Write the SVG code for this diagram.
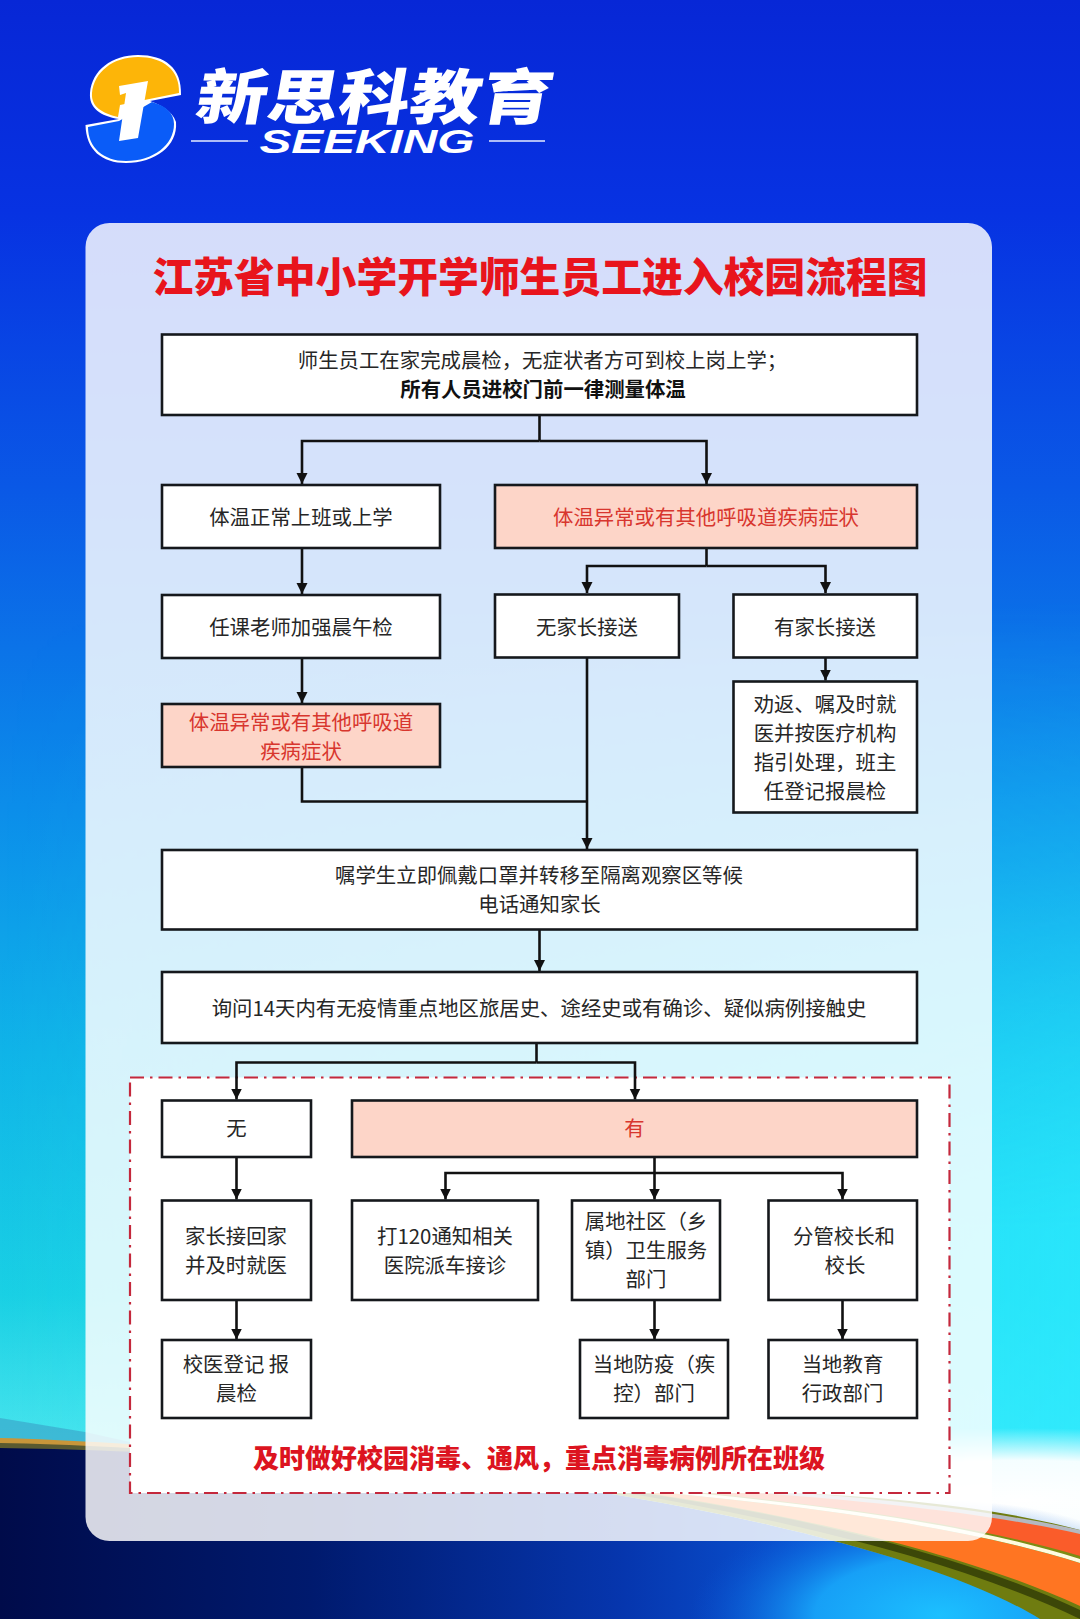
<svg xmlns="http://www.w3.org/2000/svg" width="1080" height="1619" viewBox="0 0 1080 1619">
<defs>
<linearGradient id="sky" x1="0" y1="0" x2="0" y2="1">
<stop offset="0" stop-color="#0727d6"/><stop offset="0.13" stop-color="#0732e2"/><stop offset="0.3" stop-color="#0a58e6"/><stop offset="0.5" stop-color="#0c8eea"/><stop offset="0.65" stop-color="#10b4e8"/><stop offset="0.8" stop-color="#1ad0e4"/><stop offset="0.9" stop-color="#4ce6ee"/><stop offset="1" stop-color="#8ff0f5"/>
</linearGradient>
<linearGradient id="skyR" x1="0" y1="0" x2="1" y2="0">
<stop offset="0" stop-color="#2cf0ff" stop-opacity="0"/><stop offset="1" stop-color="#2ceaff" stop-opacity="0.85"/>
</linearGradient>
<linearGradient id="fadeV" x1="0" y1="0" x2="0" y2="1">
<stop offset="0" stop-color="#000"/><stop offset="0.3" stop-color="#555"/><stop offset="0.7" stop-color="#fff"/><stop offset="1" stop-color="#fff"/>
</linearGradient>
<mask id="fadeMask" maskUnits="userSpaceOnUse" x="0" y="600" width="1080" height="900"><rect y="600" width="1080" height="900" fill="url(#fadeV)"/></mask>
<radialGradient id="glow" cx="0.5" cy="0.5" r="0.5">
<stop offset="0" stop-color="#ffffff"/><stop offset="0.55" stop-color="#ffffff" stop-opacity="0.95"/><stop offset="1" stop-color="#ffffff" stop-opacity="0"/>
</radialGradient>
<linearGradient id="ground" x1="0" y1="0" x2="1" y2="0">
<stop offset="0" stop-color="#000b4a"/><stop offset="0.3" stop-color="#001a6e"/><stop offset="0.6" stop-color="#0636ae"/><stop offset="0.8" stop-color="#0a58d8"/><stop offset="1" stop-color="#0a58d8"/>
</linearGradient>
<radialGradient id="groundGlow" cx="0.5" cy="0.5" r="0.5">
<stop offset="0" stop-color="#1cc0ff"/><stop offset="0.5" stop-color="#18a8fa" stop-opacity="0.9"/><stop offset="1" stop-color="#0a58d8" stop-opacity="0"/>
</radialGradient>
<marker id="arrow" markerUnits="userSpaceOnUse" markerWidth="12" markerHeight="13" refX="11" refY="5.5" orient="auto">
<path d="M0 0 L11 5.5 L0 11 Z" fill="#111"/>
</marker>
<style>
.box{fill:#fff;stroke:#15181c;stroke-width:2.6}
.alert{fill:#fdd5c8;stroke:#15181c;stroke-width:2.6}
.t{font-family:"Noto Sans CJK SC","Liberation Sans",sans-serif;font-size:20.4px;fill:#262626;text-anchor:middle;dominant-baseline:central}
.r{fill:#d8362e}
.b{font-weight:700;fill:#111}
.ln{fill:none;stroke:#111;stroke-width:2.6}
.ar{marker-end:url(#arrow)}
</style>
</defs>

<g id="background">
<rect width="1080" height="1619" fill="url(#sky)"/>
<rect y="600" width="1080" height="900" fill="url(#skyR)" mask="url(#fadeMask)"/>
<path d="M0 1418 L85 1432 L130 1442 L130 1450 L0 1438 Z" fill="#3aa8cc" opacity="0.7"/>
<ellipse cx="1020" cy="1500" rx="420" ry="72" fill="url(#glow)"/>
<path d="M0 1445 C220 1452 420 1468 600 1492 C800 1525 960 1570 1040 1619 L0 1619 Z" fill="url(#ground)"/>
<ellipse cx="940" cy="1615" rx="250" ry="115" fill="url(#groundGlow)"/>
<path d="M0 1438 C80 1440 200 1448 320 1458 L320 1461 C200 1452 80 1448 0 1447 Z" fill="#c8963a"/>
<path d="M0 1443 C80 1444 200 1452 320 1460 L320 1462 C200 1454 80 1449 0 1448 Z" fill="#5a5a30"/>
<path d="M600 1488 C780 1490 950 1495 1080 1530 L1080 1619 L1040 1619 C960 1570 800 1525 600 1492 Z" fill="#6f7c10"/>
<path d="M620 1492 C800 1522 960 1562 1080 1619 L1080 1610 C960 1554 800 1515 620 1490 Z" fill="#3c4708"/>
<path d="M640 1490 C800 1506 960 1525 1080 1563 L1080 1606 C980 1560 830 1520 640 1492 Z" fill="#ff7522"/>
<path d="M640 1484 C800 1498 960 1515 1080 1556 L1080 1563 C960 1525 800 1506 640 1490 Z" fill="#7d8c14"/>
<path d="M640 1484 C800 1494 960 1505 1080 1533 L1080 1556 C960 1520 800 1502 640 1486 Z" fill="#fa5c2a"/>
<path d="M640 1490 C800 1506 960 1525 1080 1563 L1080 1559 C960 1521 800 1502 640 1488 Z" fill="#fffbe0"/>
<path d="M640 1482 C800 1492 960 1503 1080 1530 L1080 1534 C960 1507 800 1495 640 1485 Z" fill="#b4b8c0"/>
</g>

<rect id="panel" x="85.500" y="223" width="906.500" height="1318" rx="24" fill="#fff" fill-opacity="0.83"/>

<g id="logo">
<path d="M90 93 C92 70 112 55 138 55 C165 55 182 68 181 95 L150 101 C160 105 172 110 176 122 C178 146 155 163 126 163 C102 163 86 150 85.500 125 L119 119 C100 116 89 108 90 93 Z" fill="#fff"/>
<path d="M92 93 C94 72 113 57 138 57 C163 57 180 70 179 93 L120 105 L118 117 C102 113 91 107 92 93 Z" fill="#fdb508"/>
<path d="M88 127 L119 121 L152 102 C166 106 174 113 174 124 C174 145 153 161 126 161 C104 161 88 148 88 127 Z" fill="#0a5cf8"/>
<path d="M119 86 L148 81 L138 138 L119 141 L126 93 L120 95 Z" fill="#fff"/>
<text x="0" y="0" transform="translate(376 93) skewX(-10)" font-family="'Noto Sans CJK SC','Liberation Sans',sans-serif" font-size="60" font-weight="900" fill="#fff" text-anchor="middle" dominant-baseline="central" textLength="356" lengthAdjust="spacingAndGlyphs">新思科教育</text>
<text x="367" y="153" font-family="'Liberation Sans',sans-serif" font-size="34" font-weight="700" font-style="italic" fill="#fff" text-anchor="middle" textLength="215" lengthAdjust="spacingAndGlyphs">SEEKING</text>
<path d="M191 141 H248 M489 141 H545" stroke="#e6ecff" stroke-width="1.500" fill="none"/>
</g>

<text id="title" x="540" y="274" font-family="'Noto Sans CJK SC','Liberation Sans',sans-serif" font-size="40.800" font-weight="900" fill="#e8141c" text-anchor="middle" dominant-baseline="central">江苏省中小学开学师生员工进入校园流程图</text>

<g id="zone-infected">
<rect x="130" y="1077.500" width="819.500" height="415.500" fill="#fff" stroke="#c4283c" stroke-width="2.200" stroke-dasharray="14 6 2.500 6"/>
<text x="539" y="1456" font-family="'Noto Sans CJK SC','Liberation Sans',sans-serif" font-size="26" font-weight="900" fill="#dc1420" text-anchor="middle" dominant-baseline="central">及时做好校园消毒、通风，重点消毒病例所在班级</text>
</g>

<g id="connectors">
<path class="ln" d="M539.500 415 V441"/>
<path class="ln ar" d="M539.500 441 H302 V484"/>
<path class="ln ar" d="M539.500 441 H706.500 V484"/>
<path class="ln ar" d="M302 548 V594"/>
<path class="ln ar" d="M302 658 V703"/>
<path class="ln" d="M706.500 548 V566"/>
<path class="ln ar" d="M706.500 566 H587 V593"/>
<path class="ln ar" d="M706.500 566 H825.500 V593"/>
<path class="ln ar" d="M825.500 657 V680.500"/>
<path class="ln ar" d="M587 657 V849"/>
<path class="ln" d="M302 767 V801.500 H587"/>
<path class="ln ar" d="M539.500 929.500 V971"/>
<path class="ln" d="M536.500 1043 V1062.500"/>
<path class="ln ar" d="M536.500 1062.500 H236.500 V1099.500"/>
<path class="ln ar" d="M536.500 1062.500 H635 V1099.500"/>
<path class="ln ar" d="M236.500 1157 V1199.500"/>
<path class="ln ar" d="M236.500 1300 V1339.500"/>
<path class="ln ar" d="M654.500 1157 V1199.500"/>
<path class="ln ar" d="M654.500 1173 H445.500 V1199.500"/>
<path class="ln ar" d="M654.500 1173 H842.500 V1199.500"/>
<path class="ln ar" d="M654.500 1300 V1339.500"/>
<path class="ln ar" d="M842.500 1300 V1339.500"/>
</g>

<g id="n-start"><rect class="box" x="162" y="334.500" width="755" height="80.500"/>
<text class="t" x="542.500" y="358.500">师生员工在家完成晨检，无症状者方可到校上岗上学；</text>
<text class="t b" x="543" y="388">所有人员进校门前一律测量体温</text></g>
<g id="n-normal"><rect class="box" x="162" y="485" width="278" height="63"/><text class="t" x="301" y="515.500">体温正常上班或上学</text></g>
<g id="n-abnormal"><rect class="alert" x="495" y="485" width="422" height="63"/><text class="t r" x="706" y="515.500">体温异常或有其他呼吸道疾病症状</text></g>
<g id="n-check"><rect class="box" x="162" y="595" width="278" height="63"/><text class="t" x="301" y="625.500">任课老师加强晨午检</text></g>
<g id="n-noparent"><rect class="box" x="495" y="594.500" width="184" height="63"/><text class="t" x="587" y="625.500">无家长接送</text></g>
<g id="n-parent"><rect class="box" x="733.500" y="594.500" width="183.500" height="63"/><text class="t" x="825" y="625.500">有家长接送</text></g>
<g id="n-abnormal2"><rect class="alert" x="162" y="704" width="278" height="63"/><text class="t r" x="301" y="720.500">体温异常或有其他呼吸道</text><text class="t r" x="301" y="749.500">疾病症状</text></g>
<g id="n-return"><rect class="box" x="733.500" y="681.500" width="183.500" height="131"/>
<text class="t" x="825" y="702.500">劝返、嘱及时就</text><text class="t" x="825" y="731.500">医并按医疗机构</text><text class="t" x="825" y="760.500">指引处理，班主</text><text class="t" x="825" y="790">任登记报晨检</text></g>
<g id="n-isolate"><rect class="box" x="162" y="850" width="755" height="79.500"/><text class="t" x="539" y="874">嘱学生立即佩戴口罩并转移至隔离观察区等候</text><text class="t" x="539.500" y="903">电话通知家长</text></g>
<g id="n-ask"><rect class="box" x="162" y="972" width="755" height="71"/><text class="t" x="539" y="1006.500">询问14天内有无疫情重点地区旅居史、途经史或有确诊、疑似病例接触史</text></g>
<g id="n-no"><rect class="box" x="162" y="1100.500" width="149" height="56.500"/><text class="t" x="236.500" y="1126.500">无</text></g>
<g id="n-yes"><rect class="alert" x="352" y="1100.500" width="565" height="56.500"/><text class="t r" x="634.500" y="1126.500">有</text></g>
<g id="n-home"><rect class="box" x="162" y="1200.500" width="149" height="99.500"/><text class="t" x="236" y="1234.500">家长接回家</text><text class="t" x="236" y="1263.500">并及时就医</text></g>
<g id="n-120"><rect class="box" x="352" y="1200.500" width="186" height="99.500"/><text class="t" x="445" y="1234.500">打120通知相关</text><text class="t" x="445" y="1263.500">医院派车接诊</text></g>
<g id="n-community"><rect class="box" x="572" y="1200.500" width="148" height="99.500"/><text class="t" x="646" y="1220">属地社区（乡</text><text class="t" x="646" y="1249">镇）卫生服务</text><text class="t" x="646" y="1278">部门</text></g>
<g id="n-principal"><rect class="box" x="768.500" y="1200.500" width="148.500" height="99.500"/><text class="t" x="844" y="1234.500">分管校长和</text><text class="t" x="845" y="1263.500">校长</text></g>
<g id="n-nurse"><rect class="box" x="162" y="1340" width="149" height="78"/><text class="t" x="236" y="1362.500">校医登记 报</text><text class="t" x="236.500" y="1391.500">晨检</text></g>
<g id="n-cdc"><rect class="box" x="580" y="1340" width="148" height="78"/><text class="t" x="654" y="1362.500">当地防疫（疾</text><text class="t" x="654" y="1391.500">控）部门</text></g>
<g id="n-edu"><rect class="box" x="768.500" y="1340" width="148.500" height="78"/><text class="t" x="842.500" y="1362.500">当地教育</text><text class="t" x="842.500" y="1391.500">行政部门</text></g>
</svg>
